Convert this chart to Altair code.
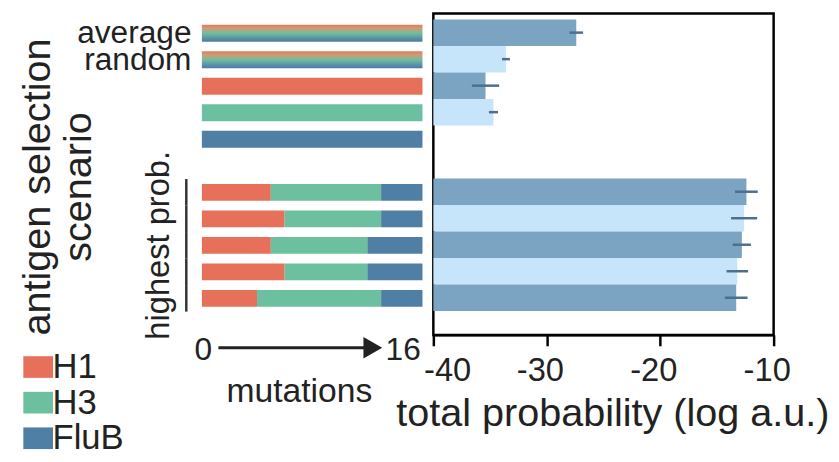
import altair as alt
import pandas as pd

# ---------------- data ----------------
rows = ["average", "random", "H1 only", "H3 only", "FluB only", "gap",
        "hp1", "hp2", "hp3", "hp4", "hp5"]
labelled_rows = ["average", "random"]

strains = ["H1", "H3", "FluB"]
strain_colors = ["#E6705A", "#6CC0A0", "#4F7FA5"]

comp_rows = ["H1 only", "H3 only", "FluB only", "hp1", "hp2", "hp3", "hp4", "hp5"]
h1_mut = [16, 0, 0, 5, 6, 5, 6, 4]
h3_mut = [0, 16, 0, 8, 7, 7, 6, 9]
flub_mut = [0, 0, 16, 3, 3, 4, 4, 3]

mixed_rows = ["average", "random"]
total_mutations = 16

prob_rows = ["average", "random", "H1 only", "H3 only", "hp1", "hp2", "hp3", "hp4", "hp5"]
log_prob = [-27.4, -33.6, -35.4, -34.7, -12.4, -12.6, -12.8, -13.2, -13.3]
log_prob_err = [0.6, 0.35, 1.2, 0.4, 1.0, 1.15, 0.8, 0.95, 1.0]
shade = ["dark", "light", "dark", "light", "dark", "light", "dark", "light", "dark"]
shade_colors = ["#7BA3C2", "#C6E5FB"]

highest_rows = ["hp1", "hp2", "hp3", "hp4", "hp5"]
highest_label_row = ["hp3"]
prob_ticks = [-40, -30, -20, -10]
mut_ticks = [0, 16]
arrow_start = [1.2]
arrow_end = [12.4]

FONT = "Liberation Sans"
TXT = "#222222"

# ---------------- tables ----------------
recs = []
for i, r in enumerate(comp_rows):
    start = 0
    for s, n in zip(strains, [h1_mut[i], h3_mut[i], flub_mut[i]]):
        if n > 0:
            recs.append({"row": r, "strain": s, "start": start, "end": start + n})
        start += n
comp_df = pd.DataFrame(recs)
mixed_df = pd.DataFrame({"row": mixed_rows, "start": 0, "end": total_mutations})
prob_df = pd.DataFrame({
    "row": prob_rows, "log_prob": log_prob, "shade": shade,
    "lo": [v - e for v, e in zip(log_prob, log_prob_err)],
    "hi": [v + e for v, e in zip(log_prob, log_prob_err)],
})
hp_df = pd.DataFrame({"row": highest_rows})
hp_label_df = pd.DataFrame({"row": highest_label_row, "label": ["highest prob."]})
arrow_df = pd.DataFrame({"a": arrow_start, "b": arrow_end})

# ---------------- left panel ----------------
left_y = alt.Y(
    "row:N",
    scale=alt.Scale(domain=rows, paddingInner=0, paddingOuter=0.563, align=0.22),
    axis=alt.Axis(
        title=["antigen selection", "scenario"], titleFontSize=40, titleLineHeight=41,
        titleAngle=270, titleX=-154, titleY=175, titleAlign="center",
        titleBaseline="alphabetic", titleFontWeight="normal", titleColor=TXT,
        labelExpr="datum.value == 'average' || datum.value == 'random' ? datum.value : ''",
        labelFontSize=32, labelPadding=11, labelColor=TXT, labelOverlap=False,
        labelBaseline="middle", ticks=False, domain=False, grid=False,
    ),
)


def left_x(field):
    return alt.X(
        field,
        scale=alt.Scale(domain=[0, total_mutations], nice=False, zero=True),
        axis=alt.Axis(
            values=mut_ticks, title="mutations", domain=False, ticks=False, tickSize=0,
            labelFontSize=32, labelPadding=0, labelColor=TXT, grid=False, labelFlush=False,
            labelOffset={"condition": {"test": "datum.value == 16", "value": -20}, "value": 1},
            titleFontSize=34, titleFontWeight="normal", titleColor=TXT,
            titleX=98, titleY=67, titleAlign="center", titleBaseline="alphabetic",
        ),
    )


grad = alt.Gradient(
    gradient="linear", x1=0, x2=0, y1=0, y2=1,
    stops=[
        alt.GradientStop(color="#E4785E", offset=0),
        alt.GradientStop(color="#D39A72", offset=0.2),
        alt.GradientStop(color="#6FBF9C", offset=0.5),
        alt.GradientStop(color="#5C9AA8", offset=0.75),
        alt.GradientStop(color="#4E78A2", offset=1),
    ],
)

mixed = alt.Chart(mixed_df).mark_bar(size=17, color=grad).encode(
    y=left_y, x=left_x("start:Q"), x2="end:Q"
)
stacked = alt.Chart(comp_df).mark_bar(size=17).encode(
    y=left_y, x=left_x("start:Q"), x2="end:Q",
    color=alt.Color(
        "strain:N",
        scale=alt.Scale(domain=strains, range=strain_colors),
        legend=alt.Legend(
            orient="none", legendX=-183, legendY=340, title=None,
            labelFontSize=35, labelColor=TXT, labelOffset=alt.ExprRef("-3"),
            symbolType="M-1,-0.73H1V0.73H-1Z", symbolSize=900,
            symbolStrokeWidth=0, symbolOpacity=1, rowPadding=0, padding=0,
        ),
    ),
)
bracket = alt.Chart(hp_df).mark_bar(color="#333333").encode(
    y=left_y, x=alt.value(-17), x2=alt.value(-14.5)
)
hp_text = alt.Chart(hp_label_df).mark_text(
    angle=270, fontSize=33, align="center", baseline="alphabetic", color=TXT
).encode(y=left_y, x=alt.value(-33), text="label:N")
arrow_line = alt.Chart(arrow_df).mark_rule(strokeWidth=3, color=TXT).encode(
    x=left_x("a:Q"), x2="b:Q", y=alt.value(338)
)
arrow_head = alt.Chart(arrow_df).mark_point(
    shape="triangle-right", filled=True, size=480, color=TXT, opacity=1
).encode(x=left_x("b:Q"), y=alt.value(338))

left = alt.layer(mixed, stacked, bracket, hp_text, arrow_line, arrow_head).properties(
    width=223, height=325, view=alt.ViewBackground(stroke=None)
)

# ---------------- right panel ----------------
right_y = alt.Y(
    "row:N",
    scale=alt.Scale(domain=rows, paddingInner=0, paddingOuter=0.563, align=0.2),
    axis=None,
)


def right_x(field):
    return alt.X(
        field,
        scale=alt.Scale(domain=[-40, -10], nice=False, zero=False),
        axis=alt.Axis(
            values=prob_ticks, title="total probability (log a.u.)",
            labelExpr="'-' + abs(datum.value)", labelFlush=False,
            domainColor="black", domainWidth=2.5, tickColor="black", tickWidth=2.5,
            tickSize=11, labelFontSize=33, labelPadding=9, labelColor=TXT, grid=False,
            labelOffset={"condition": {"test": "datum.value == -40", "value": 14}, "value": -7},
            titleFontSize=40, titleFontWeight="normal", titleColor=TXT,
            titleX=181, titleY=92, titleAlign="center", titleBaseline="alphabetic",
        ),
    )


prob_bars = alt.Chart(prob_df).mark_bar().encode(
    y=right_y, x=right_x("log_prob:Q"), x2=alt.datum(-40),
    color=alt.Color("shade:N", scale=alt.Scale(domain=["dark", "light"], range=shade_colors),
                    legend=None),
)
err_bars = alt.Chart(prob_df).mark_rule(strokeWidth=2.5, color="#4D6E8E").encode(
    y=right_y, x=right_x("lo:Q"), x2="hi:Q"
)
right = alt.layer(prob_bars, err_bars).properties(
    width=344, height=325,
    view=alt.ViewBackground(stroke="black", strokeWidth=2.5),
)

chart = (
    alt.hconcat(left, right, spacing=11, bounds="flush")
    .resolve_scale(color="independent")
    .properties(padding={"left": 10, "top": 1, "right": 0, "bottom": 0})
    .configure(font=FONT)
)

chart.save("out.html", embed_options={"renderer": "svg", "actions": False})
